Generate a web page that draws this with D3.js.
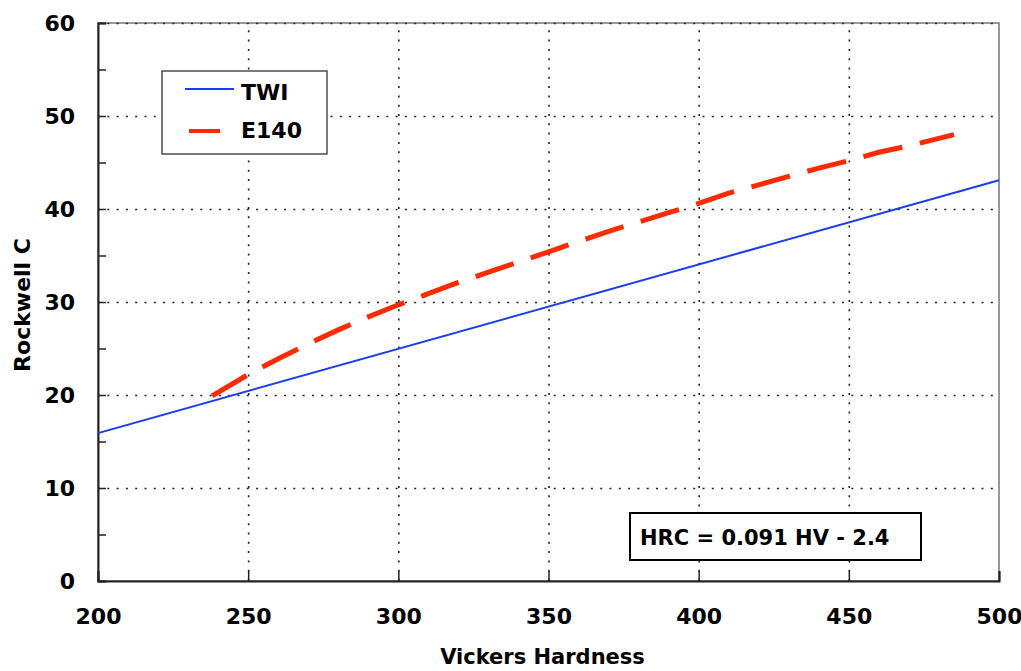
<!DOCTYPE html>
<html>
<head>
<meta charset="utf-8">
<script src="https://cdn.jsdelivr.net/npm/d3@7"></script>
<style>
  body { margin: 0; background: #fff; }
  text { font-family: "DejaVu Sans", Verdana, sans-serif; font-weight: bold; fill: #000; }
</style>
</head>
<body>
<div id="chart-area"></div>
<script>
// values
const twiHV = [200, 500]
const twiHRC = [15.9, 43.1]
const e140HV = [238, 250, 260, 270, 280, 290, 300, 310, 320, 330, 340, 350, 360, 370,
  380, 390, 400, 410, 420, 430, 440, 450, 460, 470, 480, 485]
const e140HRC = [19.9, 22.2, 23.9, 25.5, 27.0, 28.4, 29.7, 30.9, 32.1, 33.2, 34.3, 35.4, 36.5, 37.6,
  38.6, 39.6, 40.6, 41.7, 42.6, 43.5, 44.4, 45.2, 46.1, 46.8, 47.6, 48.0]
const xTicks = [200, 250, 300, 350, 400, 450, 500]
const yTicks = [0, 10, 20, 30, 40, 50, 60]
const yMinor = [5, 15, 25, 35, 45, 55]
const seriesNames = ['TWI', 'E140']
const equation = 'HRC = 0.091 HV - 2.4'

const margin = {top: 23, right: 22, bottom: 90, left: 98}
const width = 1021 - margin.left - margin.right
const height = 671 - margin.top - margin.bottom

const svg = d3.select('#chart-area').append('svg')
  .attr('width', 1021)
  .attr('height', 671)

const g = svg.append('g')
  .attr('transform', `translate(${margin.left},${margin.top})`)

const x = d3.scaleLinear().domain([200, 500]).range([0, width])
const y = d3.scaleLinear().domain([0, 60]).range([height, 0])

// frame
g.append('rect')
  .attr('width', width).attr('height', height)
  .attr('fill', 'none').attr('stroke', '#777').attr('stroke-width', 1.5)

// dotted grid
g.append('g')
  .call(d3.axisLeft(y).tickValues(yTicks.slice(1)).tickSize(-width).tickFormat(''))
  .call(s => s.select('.domain').remove())
  .selectAll('line')
    .attr('stroke', '#222').attr('stroke-width', 1.6).attr('stroke-dasharray', '2,7.3')

g.append('g')
  .attr('transform', `translate(0,${height})`)
  .call(d3.axisBottom(x).tickValues(xTicks.slice(1, -1)).tickSize(-height).tickFormat(''))
  .call(s => s.select('.domain').remove())
  .selectAll('line')
    .attr('stroke', '#222').attr('stroke-width', 1.6).attr('stroke-dasharray', '2,7.3')

// minor y ticks
g.append('g')
  .call(d3.axisLeft(y).tickValues(yMinor).tickSize(-8).tickFormat(''))
  .call(s => s.select('.domain').remove())
  .selectAll('line').attr('stroke', '#222').attr('stroke-width', 1.5)

// axes
const yAxisCall = d3.axisLeft(y).tickValues(yTicks).tickSize(-8).tickPadding(23)
g.append('g')
  .attr('class', 'y-axis')
  .call(yAxisCall)
  .call(s => s.select('.domain').attr('stroke', '#222').attr('stroke-width', 2))
  .call(s => s.selectAll('line').attr('stroke', '#222').attr('stroke-width', 1.5))
  .selectAll('text')
    .attr('font-size', 22)

const xAxisCall = d3.axisBottom(x).tickValues(xTicks).tickSize(-10).tickPadding(27)
g.append('g')
  .attr('class', 'x axis')
  .attr('transform', `translate(0,${height})`)
  .call(xAxisCall)
  .call(s => s.select('.domain').attr('stroke', '#222').attr('stroke-width', 2))
  .call(s => s.selectAll('line').attr('stroke', '#222').attr('stroke-width', 1.5))
  .selectAll('text')
    .attr('font-size', 22)

// axis titles
g.append('text')
  .attr('x', width / 2 - 6)
  .attr('y', height + 83)
  .attr('text-anchor', 'middle')
  .attr('font-size', 21)
  .text('Vickers Hardness')

g.append('text')
  .attr('transform', `translate(${-68},${height / 2 + 3}) rotate(-90)`)
  .attr('text-anchor', 'middle')
  .attr('font-size', 22)
  .text('Rockwell C')

// series
const line = d3.line().x(d => x(d[0])).y(d => y(d[1]))

g.append('path')
  .datum(twiHV.map((v, i) => [v, twiHRC[i]]))
  .attr('d', line)
  .attr('fill', 'none')
  .attr('stroke', '#1a3cf5')
  .attr('stroke-width', 2)

g.append('path')
  .datum(e140HV.map((v, i) => [v, e140HRC[i]]))
  .attr('d', line)
  .attr('fill', 'none')
  .attr('stroke', '#ff2a00')
  .attr('stroke-width', 5)
  .attr('stroke-dasharray', '40,18')

// legend
const legend = svg.append('g').attr('transform', 'translate(162,71)')
legend.append('rect')
  .attr('width', 165).attr('height', 83)
  .attr('fill', '#fff').attr('stroke', '#222').attr('stroke-width', 1.2)

legend.append('line')
  .attr('x1', 23).attr('x2', 72).attr('y1', 18).attr('y2', 18)
  .attr('stroke', '#1a3cf5').attr('stroke-width', 2)
legend.append('line')
  .attr('x1', 27).attr('x2', 58).attr('y1', 60).attr('y2', 60)
  .attr('stroke', '#ff2a00').attr('stroke-width', 4)

legend.selectAll('text.lab')
  .data(seriesNames)
  .enter().append('text')
    .attr('class', 'lab')
    .attr('x', 79)
    .attr('y', (d, i) => 29 + i * 38)
    .attr('font-size', 22)
    .text(d => d)

// equation box
const eq = svg.append('g').attr('transform', 'translate(630,513)')
eq.append('rect')
  .attr('width', 291).attr('height', 47)
  .attr('fill', '#fff').attr('stroke', '#000').attr('stroke-width', 2)
eq.append('text')
  .attr('x', 10).attr('y', 32)
  .attr('font-size', 21)
  .text(equation)
</script>
</body>
</html>
